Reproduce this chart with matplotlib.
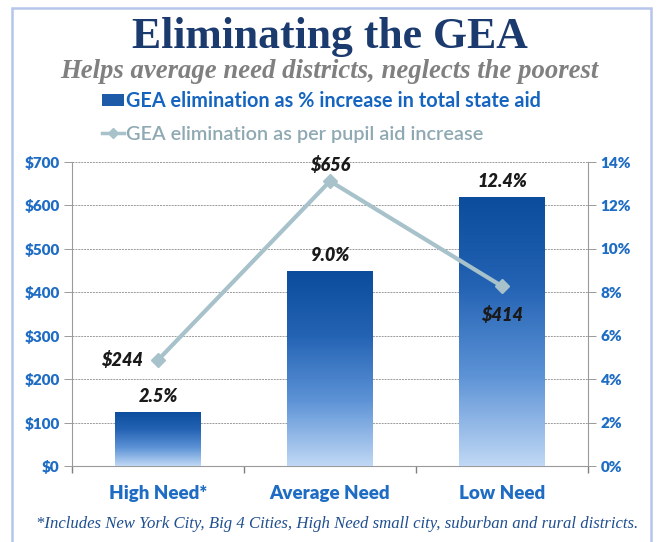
import numpy as np
import matplotlib.pyplot as plt
from matplotlib.patches import Rectangle, Patch
from matplotlib.lines import Line2D
from matplotlib.colors import LinearSegmentedColormap

# datos
categorias = ["High Need*", "Average Need", "Low Need"]
pct_aumento = [2.5, 9.0, 12.4]        # % increase in total state aid
por_alumno = [244, 656, 414]          # per pupil aid increase ($)
pct_etiquetas = ["2.5%", "9.0%", "12.4%"]
dolar_etiquetas = ["$244", "$656", "$414"]
dolar_ticks = [0, 100, 200, 300, 400, 500, 600, 700]
pct_ticks = [0, 2, 4, 6, 8, 10, 12, 14]

azul = "#1f6cc4"
linea_col = "#a7c2ca"
grid_col = "#9a9a9a"

fig = plt.figure(figsize=(6.59, 5.42), dpi=100)
fig.patch.set_facecolor("white")

# marco
fig.add_artist(Rectangle((12/659, -0.01), 639/659, 1 - 8/542 + 0.01, transform=fig.transFigure,
                         fill=False, edgecolor="#b6c6ea", linewidth=1.8))

ax2 = fig.add_axes([72/659, 76/542, 516/659, 304/542])
ax = ax2.twinx()
ax.set_zorder(ax2.get_zorder() + 1)
ax.patch.set_visible(False)

x = np.arange(len(categorias))

# barras con degradado (eje derecho, %)
grad = np.linspace(0, 1, 256).reshape(-1, 1)
cmap = LinearSegmentedColormap.from_list("g", ["#c0d8f5", "#5d93d6", "#2463b4", "#0b4c9c"])
bars = ax2.bar(x, pct_aumento, width=0.5, color="none", edgecolor="none", zorder=3)
for b in bars:
    x0, w, h = b.get_x(), b.get_width(), b.get_height()
    im = ax2.imshow(grad, extent=[x0, x0 + w, 0, h], origin="lower", cmap=cmap,
                    aspect="auto", zorder=3)
    im.set_clip_path(b)
ax2.set_xlim(-0.5, 2.5)
ax2.set_ylim(0, 14)
ax2.set_aspect("auto")

etq = dict(fontsize=13, fontweight="heavy", fontstyle="italic", family="Lato", color="#1a1a1a")
for xi, v, t in zip(x, pct_aumento, pct_etiquetas):
    ax2.annotate(t, (xi, v), xytext=(0, 5), textcoords="offset points", ha="center", va="bottom",
                 zorder=5, **etq)

tick_font = dict(color=azul, fontweight="heavy", fontsize=11, family="Lato")
ax2.yaxis.tick_right()
ax2.set_yticks(pct_ticks)
ax2.set_yticklabels([f"{t}%" for t in pct_ticks], **tick_font)
ax2.grid(axis="y", color=grid_col, linewidth=0.7, linestyle=(0, (2, 1)), zorder=0)
ax2.set_axisbelow(True)

# linea (eje izquierdo, $)
ax.yaxis.tick_left()
ax.set_ylim(0, 700)
ax.plot(x, por_alumno, color=linea_col, linewidth=3, marker="D", markersize=7,
        markerfacecolor=linea_col, markeredgecolor=linea_col, zorder=4)
ax.set_yticks(dolar_ticks)
ax.set_yticklabels([f"${t}" for t in dolar_ticks], **tick_font)
offsets = [(-11, 0, "right", "center"), (0, 5, "center", "bottom"), (0, -14, "center", "top")]
for xi, v, t, (dx, dy, ha, va) in zip(x, por_alumno, dolar_etiquetas, offsets):
    ax.annotate(t, (xi, v), xytext=(dx, dy), textcoords="offset points", ha=ha, va=va, **etq)

for a in (ax, ax2):
    for s in a.spines.values():
        s.set_visible(False)
    a.tick_params(axis="y", length=6, color=grid_col, width=0.7, pad=3)

# ejes punteados
for s in ("left", "right", "bottom"):
    ax2.spines[s].set_visible(True)
    ax2.spines[s].set_color(grid_col)
    ax2.spines[s].set_linewidth(0.8)
    ax2.spines[s].set_linestyle((0, (2, 1)))

# marcas en los limites de categoria (mayores), nombres en el centro (menores)
ax2.set_xticks([-0.5, 0.5, 1.5, 2.5])
ax2.set_xticklabels(["", "", "", ""])
ax2.set_xticks(x, minor=True)
ax2.set_xticklabels(categorias, minor=True, color=azul, fontweight="heavy", fontsize=13.5,
                    family="Lato")
ax2.tick_params(axis="x", which="major", length=5, color="#808080", width=1.0)
ax2.tick_params(axis="x", which="minor", length=0, pad=14)
ax.xaxis.set_visible(False)

# titulos
fig.text(0.5, 1 - 37/542, "Eliminating the GEA", ha="center", va="center", fontsize=31.5,
         fontweight="bold", family="Liberation Serif", color="#1b3a6e")
fig.text(0.5, 1 - 71/542, "Helps average need districts, neglects the poorest", ha="center",
         va="center", fontsize=19.3, fontweight="bold", fontstyle="italic", family="Liberation Serif",
         color="#808080")

# leyenda
handles = [Patch(facecolor="#1d5aa8", edgecolor="none"),
           Line2D([0], [0], color=linea_col, lw=2.5, marker="D", markersize=5)]
labels = ["GEA elimination as % increase in total state aid", "GEA elimination as per pupil aid increase"]
leg = fig.legend(handles, labels, loc="upper left", bbox_to_anchor=(102/659, 1 - 91/542), frameon=False,
                 borderpad=0, borderaxespad=0,
                 handlelength=1.1, handleheight=0.55, handletextpad=0.1, labelspacing=0.75,
                 prop={"family": "Lato", "size": 14.3, "weight": "bold"})
leg.get_texts()[0].set_color("#1565c0")
leg.get_texts()[1].set_color("#8fa9b3")
leg.get_texts()[1].set_fontweight("semibold")

fig.text(337.5/659, 1 - 524/542,
         "*Includes New York City, Big 4 Cities, High Need small city, suburban and rural districts.",
         ha="center", va="center", fontsize=12.1, fontstyle="italic", family="Liberation Serif",
         color="#1f4f90")

fig.savefig("out.png", dpi=100)
